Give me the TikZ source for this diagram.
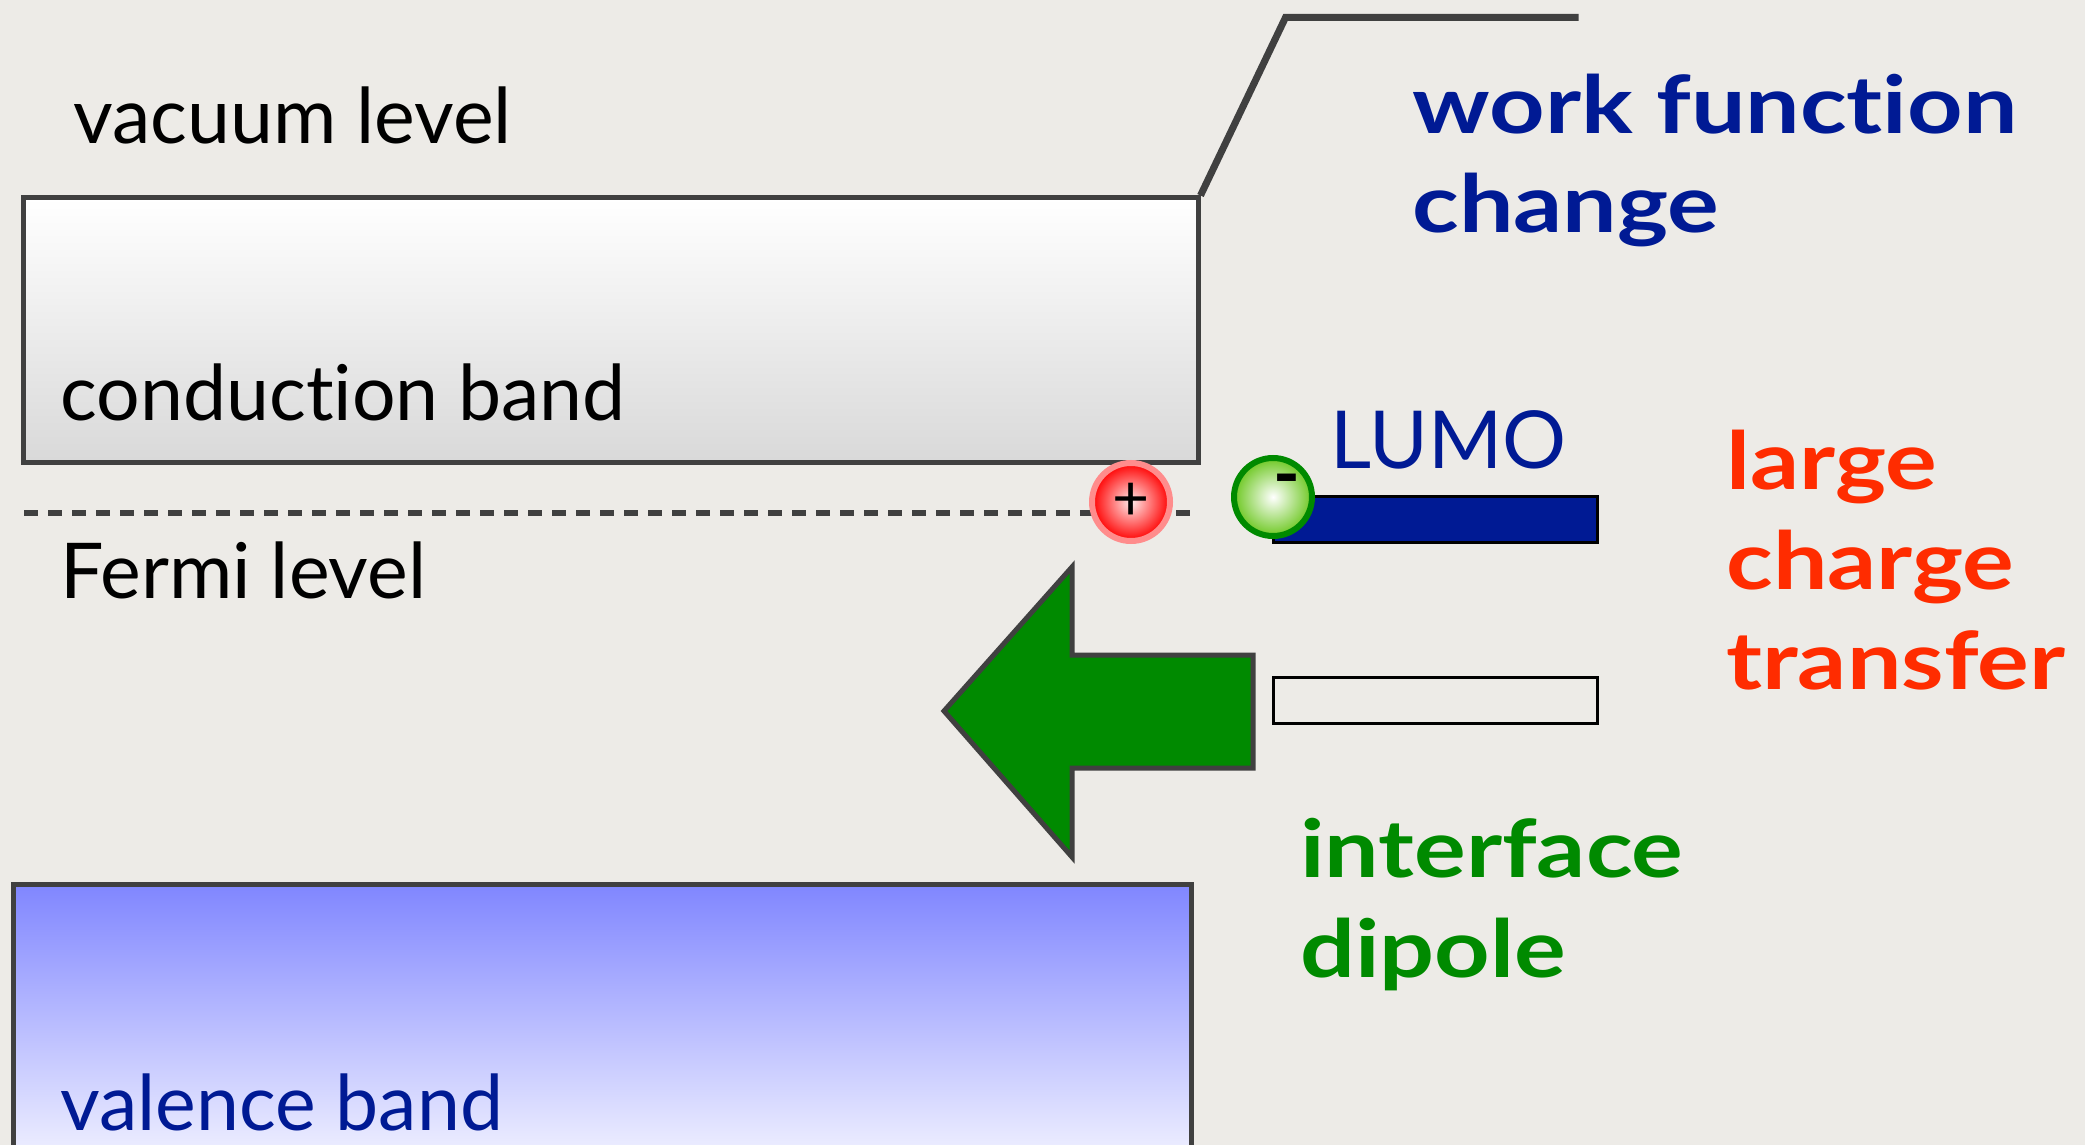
\documentclass[tikz,border=0pt]{standalone}
\usepackage{fontspec}
\setmainfont{Lato}[Ligatures=NoCommon]
\newfontfamily\heavyfont{Lato}[FakeStretch=1.21, Ligatures=NoCommon]
\definecolor{bandline}{RGB}{64,64,64}
\definecolor{deepblue}{RGB}{0,26,148}
\definecolor{hotred}{RGB}{255,44,0}
\definecolor{dipgreen}{RGB}{0,138,0}
\definecolor{paper}{RGB}{237,235,231}
\definecolor{vbtop}{RGB}{128,134,255}
\definecolor{halo}{RGB}{255,140,140}
\definecolor{lime}{RGB}{110,200,35}

\begin{document}
\begin{tikzpicture}[
    % GLOBAL CFG
    x=0.5pt, y=-0.5pt,
    % Styles
    band/.style={% For the two bands
        rectangle,
        draw=bandline,
        line width=2.5pt,
        inner sep=0pt,
        },
    orbital/.style={% For LUMO and the level below it
        rectangle,
        draw=black,
        line width=1.5pt,
        minimum width=162pt,
        minimum height=23pt,
        inner sep=0pt,
        },
    charge/.style={% For the + and - balls
        circle,
        minimum size=39pt,
        inner sep=0pt,
        line width=3pt,
        },
    txt/.style={% plain labels
        inner sep=0pt,
        anchor=base west,
        font=\fontsize{38.5}{50}\selectfont,
        },
    bigtxt/.style={% bold statements on the right, anchored at their last line
        txt,
        align=left,
        font=\fontsize{40}{50}\selectfont\heavyfont\bfseries,
        },
    ]

    % paper
    \fill[paper] (0,0) rectangle (2085,1145);
    \useasboundingbox (0,0) rectangle (2085,1145);

    % Bands
    \node[band, top color=white, bottom color=gray!30,
        minimum width=587.5pt, minimum height=132pt] (cb) at (610.5,330) {};
    \node[band, top color=vbtop, bottom color=white,
        minimum width=589pt, minimum height=156pt] (vb) at (602,1040) {};

    % vacuum level step
    \draw[bandline, line width=3.5pt, line join=miter] (cb.north east) -- ++(85,-178) coordinate (vac1) -- ++(293,0) coordinate (vac2);

    % Fermi level
    \coordinate (ef1) at (24,513);
    \coordinate (ef2) at (1195,513);
    \draw[bandline, line width=3pt, dash pattern=on 7pt off 5pt] (ef1) -- (ef2);

    % Molecule levels
    \node[orbital, fill=deepblue] (lumo) at (1435,519.5) {};
    \node[orbital] (homo) at (1435,700.5) {};

    % Charges
    \node[charge, draw=halo, inner color=red!8, outer color=red] (plus) at (1131,502) {};
    \node[font=\fontsize{32}{32}\selectfont] at (plus) {+};
    \node[charge, draw=dipgreen, inner color=white, outer color=lime] (minus) at (1273,497) {};
    \node[font=\fontsize{36}{36}\selectfont\bfseries, inner sep=0pt] at ([shift={(14,-10)}]minus) {-};

    % Dipole arrow
    \draw[fill=dipgreen, draw=bandline, line width=2.5pt] (944,711) -- (1072,567) -- (1072,655) -- (1253,655)
        -- (1253,768) -- (1072,768) -- (1072,857) -- cycle;

    % Labels
    \node[txt] (vac) at (73,144) {vacuum level};
    \node[txt] (cbl) at (60,420) {conduction band};
    \node[txt] (efl) at (60,598) {Fermi level};
    \node[txt, text=deepblue] (vbl) at (60,1130) {valence band};
    \node[txt, text=deepblue, font=\fontsize{40}{50}\selectfont] (lumol) at (1330,468) {LUMO};

    \node[bigtxt, text=deepblue] (wf) at (1412,233) {work function\\change};
    \node[bigtxt, text=hotred] (ct) at (1726,689) {large\\charge\\transfer};
    \node[bigtxt, text=dipgreen] (dip) at (1300,977) {interface\\dipole};
\end{tikzpicture}
\end{document}
